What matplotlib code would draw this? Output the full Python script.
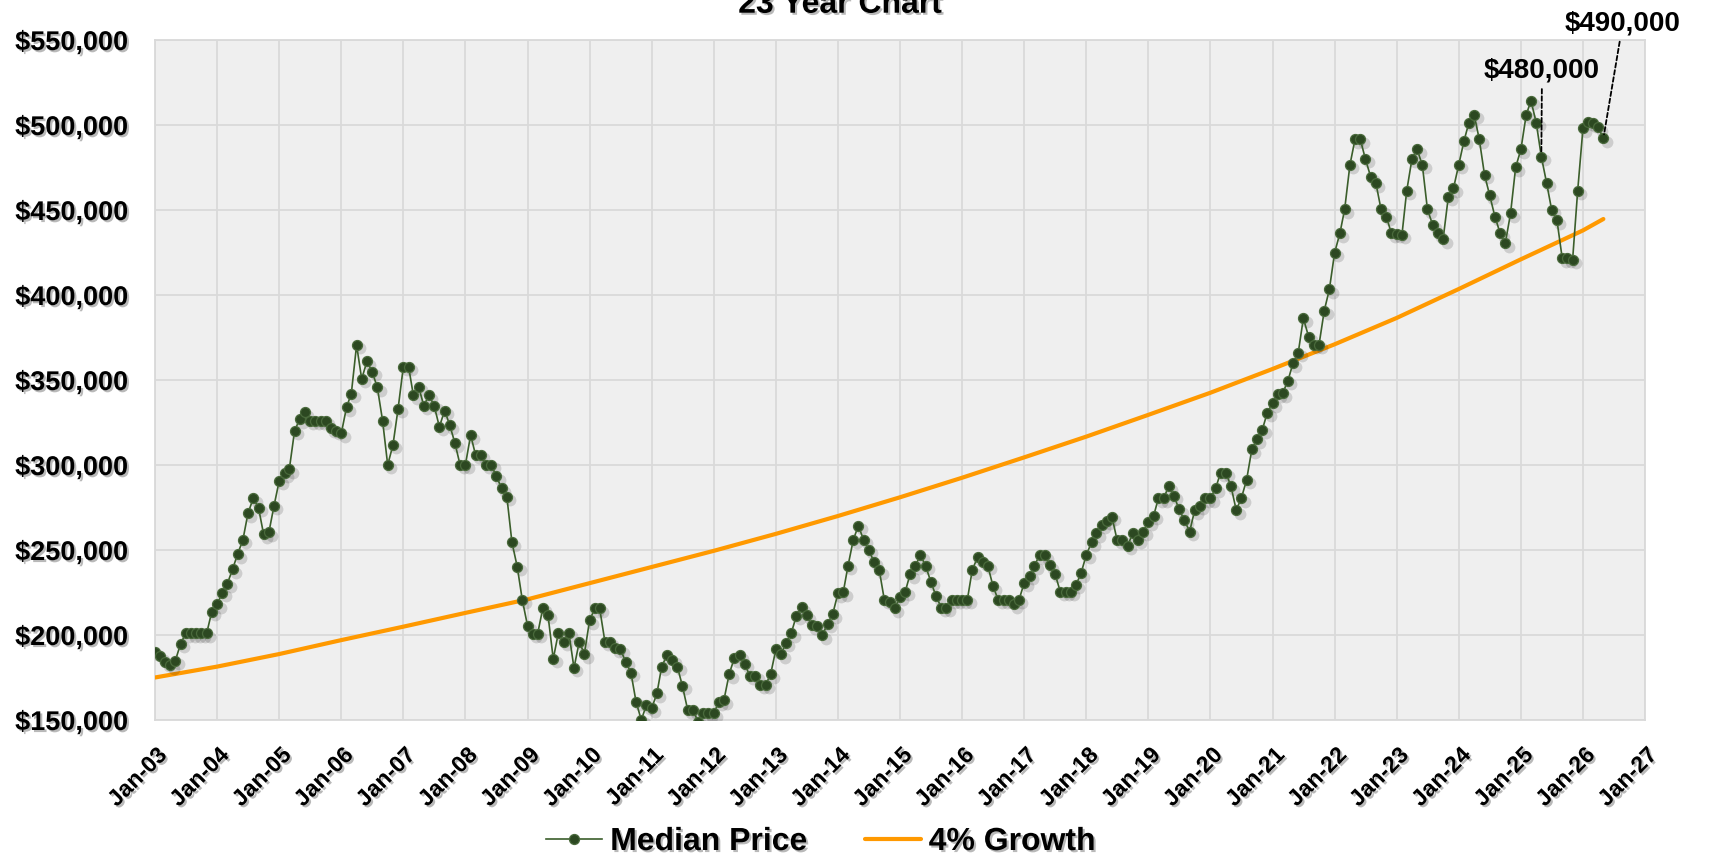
import numpy as np
import pandas as pd
import matplotlib
matplotlib.use("Agg")
import matplotlib.pyplot as plt
import matplotlib.dates as mdates
import matplotlib.patheffects as pe
from matplotlib.transforms import ScaledTranslation
from matplotlib.ticker import FuncFormatter, FixedLocator

# ---------------- data (thousands of $) ----------------
start_month = "2003-01-01"
price_2003 = [190.2, 187.6, 184.0, 182.3, 185.0, 195.0, 201.0, 201.0, 201.0, 201.0, 201.0, 213.7]
price_2004 = [218.0, 224.8, 230.0, 238.6, 247.6, 255.9, 271.6, 280.4, 274.9, 259.2, 260.4, 275.9]
price_2005 = [290.8, 295.0, 297.4, 320.0, 327.0, 331.0, 326.0, 326.0, 326.0, 326.0, 321.6, 320.0]
price_2006 = [318.6, 334.0, 342.0, 370.6, 350.6, 361.0, 355.0, 345.7, 326.0, 300.0, 311.8, 333.0]
price_2007 = [357.8, 357.8, 341.0, 346.0, 335.0, 341.0, 335.0, 322.5, 332.0, 323.5, 312.7, 300.0]
price_2008 = [300.0, 317.6, 305.9, 305.9, 300.0, 300.0, 293.5, 286.3, 281.4, 254.5, 240.2, 220.6]
price_2009 = [205.3, 200.6, 200.6, 216.0, 211.8, 185.9, 201.2, 196.0, 201.2, 180.6, 196.0, 188.8]
price_2010 = [208.8, 215.7, 215.7, 196.0, 196.0, 192.2, 191.6, 184.3, 177.8, 160.8, 150.0, 158.8]
price_2011 = [156.9, 165.7, 181.4, 188.2, 185.3, 181.4, 170.0, 155.9, 155.9, 149.0, 154.0, 154.0]
price_2012 = [154.0, 160.8, 161.7, 177.0, 186.3, 188.2, 183.0, 175.9, 175.9, 170.6, 170.6, 177.0]
price_2013 = [191.6, 188.8, 195.5, 201.0, 211.2, 216.3, 211.5, 205.6, 205.4, 199.8, 206.7, 212.3]
price_2014 = [224.5, 225.1, 240.6, 255.9, 264.3, 255.9, 250.0, 243.1, 238.2, 220.6, 219.6, 215.7]
price_2015 = [222.5, 225.5, 235.7, 240.6, 247.0, 240.6, 231.4, 222.9, 216.1, 216.1, 220.6, 220.6]
price_2016 = [220.6, 220.6, 238.2, 245.7, 243.1, 240.6, 228.8, 220.6, 220.6, 220.6, 218.2, 220.6]
price_2017 = [230.8, 234.7, 240.6, 247.0, 247.0, 241.0, 236.0, 225.5, 225.5, 225.5, 229.4, 236.3]
price_2018 = [247.1, 254.5, 259.8, 264.7, 267.3, 269.6, 255.9, 255.9, 252.4, 259.8, 255.9, 260.8]
price_2019 = [266.7, 270.0, 280.4, 280.4, 287.6, 281.8, 273.9, 267.6, 260.8, 273.5, 275.9, 280.4]
price_2020 = [280.4, 286.3, 295.5, 295.5, 287.6, 273.5, 280.4, 291.2, 309.2, 315.1, 320.6, 330.8]
price_2021 = [336.3, 341.8, 342.2, 349.5, 359.8, 366.1, 386.3, 375.5, 370.6, 370.6, 390.8, 403.3]
price_2022 = [424.9, 436.3, 450.4, 476.5, 491.6, 491.6, 480.0, 469.6, 465.7, 450.4, 446.1, 436.3]
price_2023 = [435.9, 435.3, 461.2, 480.0, 485.7, 476.5, 450.4, 441.2, 436.3, 432.7, 457.8, 462.7]
price_2024 = [476.5, 490.6, 501.4, 505.9, 491.6, 470.6, 458.8, 446.1, 436.3, 430.4, 448.0, 475.1]
price_2025 = [485.7, 505.9, 514.3, 501.4, 481.4, 466.0, 450.0, 444.0, 421.6, 421.6, 420.6, 461.4]
price_2026 = [498.0, 502.0, 501.0, 498.6, 492.1]

growth_dates = ["2003-01-01", "2004-01-01", "2005-01-01", "2006-01-01", "2007-01-01",
                "2008-01-01", "2009-01-01", "2010-01-01", "2011-01-01", "2012-01-01",
                "2013-01-01", "2014-01-01", "2015-01-01", "2016-01-01", "2017-01-01",
                "2018-01-01", "2019-01-01", "2020-01-01", "2021-01-01", "2022-01-01",
                "2023-01-01", "2024-01-01", "2025-01-01", "2026-01-01", "2026-05-01"]
growth_k = [175.0, 181.4, 188.8, 197.0, 204.9, 213.0, 221.0, 230.5, 240.0, 249.5,
            259.5, 270.0, 281.0, 292.5, 304.5, 316.7, 329.5, 342.5, 356.5, 371.0,
            386.5, 403.5, 421.0, 438.0, 444.7]

y_ticks = [150000, 200000, 250000, 300000, 350000, 400000, 450000, 500000, 550000]
title_text = "23 Year Chart"
series_names = ["Median Price", "4% Growth"]
callout_dates = ["2025-05-01", "2026-05-01"]
callout_labels = ["$480,000", "$490,000"]

# ---------------- assemble ----------------
price_k = (price_2003 + price_2004 + price_2005 + price_2006 + price_2007 + price_2008 +
           price_2009 + price_2010 + price_2011 + price_2012 + price_2013 + price_2014 +
           price_2015 + price_2016 + price_2017 + price_2018 + price_2019 + price_2020 +
           price_2021 + price_2022 + price_2023 + price_2024 + price_2025 + price_2026)
dates = pd.date_range(start_month, periods=len(price_k), freq="MS")
prices = np.array(price_k) * 1000
g_dates = pd.to_datetime(growth_dates)
g_vals = np.array(growth_k) * 1000

W, H = 1709, 856
fig = plt.figure(figsize=(W / 100, H / 100), dpi=100)
fig.patch.set_facecolor("white")
ax = fig.add_axes([155 / W, 1 - 720 / H, (1645 - 155) / W, (720 - 40) / H])
ax.set_facecolor("#EFEFEF")

shadow_txt = [pe.withSimplePatchShadow(offset=(1.5, -1.5), shadow_rgbFace="#808080", alpha=0.55)]

# orange growth line
growth_line, = ax.plot(g_dates, g_vals, color="#FF9900", lw=3.0, solid_capstyle="round",
                       label=series_names[1], zorder=3)

# marker shadow
shadow_tr = ax.transData + ScaledTranslation(2.5 / 72, -2.5 / 72, fig.dpi_scale_trans)
ax.plot(dates, prices, "o", ms=8.5, color="black", alpha=0.14, mec="none",
        transform=shadow_tr, zorder=3.5, label="_nolegend_")
# median price line
price_line, = ax.plot(dates, prices, "-o", color="#3B5E2B", lw=1.2, ms=7.2, mfc="#2C4821",
                      mec="#4A6A3C", mew=0.9, label=series_names[0], zorder=4)

# axes
ax.set_xlim(pd.Timestamp("2003-01-01"), pd.Timestamp("2027-01-01"))
ax.set_ylim(y_ticks[0], y_ticks[-1])
ax.yaxis.set_major_locator(FixedLocator(y_ticks))
ax.yaxis.set_major_formatter(FuncFormatter(lambda v, p: "${:,.0f}".format(v)))
ax.xaxis.set_major_locator(mdates.YearLocator())
ax.xaxis.set_major_formatter(mdates.DateFormatter("%b-%y"))
ax.grid(True, color="#D9D9D9", lw=1.3)
ax.set_axisbelow(True)
for s in ax.spines.values():
    s.set_color("#D9D9D9")
    s.set_linewidth(1.3)
ax.tick_params(axis="both", length=0)
ax.tick_params(axis="y", pad=19)
ax.tick_params(axis="x", pad=17)

for lab in ax.get_yticklabels():
    lab.set_fontfamily("Liberation Sans")
    lab.set_fontweight("bold")
    lab.set_fontsize(19.5)
    lab.set_path_effects(shadow_txt)
for lab in ax.get_xticklabels():
    lab.set_fontfamily("Liberation Sans")
    lab.set_fontweight("bold")
    lab.set_fontsize(16.5)
    lab.set_rotation(45)
    lab.set_ha("right")
    lab.set_va("top")
    lab.set_rotation_mode("anchor")
    lab.set_path_effects(shadow_txt)

# title (partially cut at top, as in reference)
fig.text(840 / W, 1 - 12.7 / H, title_text, ha="center", va="baseline",
         fontsize=23, fontweight="bold", family="Liberation Sans", path_effects=shadow_txt)

# callouts
offsets = [(0.5, 62), (14, 83)]
for d, lbl, off in zip(callout_dates, callout_labels, offsets):
    dt = pd.Timestamp(d)
    yv = prices[list(dates).index(dt)]
    ax.annotate(lbl, xy=(dt, yv), xytext=off, textcoords="offset points",
                ha="center", va="center", fontsize=20, fontweight="bold",
                family="Liberation Sans", annotation_clip=False, zorder=6,
                arrowprops=dict(arrowstyle="-", linestyle=(0, (2.5, 1.5)), color="black",
                                lw=1.3, shrinkA=2, shrinkB=3))

# legend
leg = ax.legend(handles=[price_line, growth_line], labels=series_names,
                loc="center", bbox_to_anchor=(821 / W, 1 - 842 / H),
                bbox_transform=fig.transFigure, ncol=2, frameon=False,
                handlelength=1.75, handletextpad=0.25, columnspacing=1.8,
                prop=dict(family="Liberation Sans", weight="bold", size=23))
for t in leg.get_texts():
    t.set_path_effects(shadow_txt)

fig.savefig("out.png", dpi=100, facecolor="white")
